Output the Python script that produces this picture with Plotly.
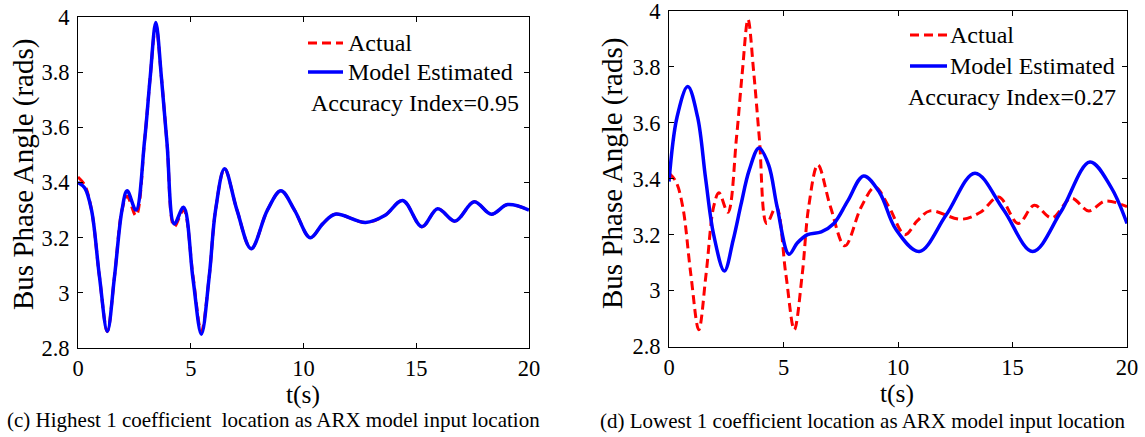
import plotly.graph_objects as go

# ---------------- data ----------------
t_actual = [0, 0.3, 0.6, 0.95, 1.3, 1.62, 1.95, 2.18, 2.57, 2.95, 3.2, 3.45, 3.7, 3.95,
            4.27, 4.68, 5.1, 5.47, 5.82, 6.1, 6.5, 7.05, 7.68, 8.4, 9.0, 9.6, 10.3,
            10.85, 11.4, 12.75, 13.6, 14.4, 15.25, 15.95, 16.72, 17.57, 18.33, 19.05, 20]
actual = [3.42, 3.39, 3.30, 3.06, 2.86, 3.06, 3.30, 3.35, 3.28, 3.55, 3.78, 3.97, 3.78, 3.54,
          3.24, 3.30, 3.06, 2.86, 3.06, 3.30, 3.45, 3.30, 3.16, 3.30, 3.37, 3.30, 3.20,
          3.25, 3.285, 3.255, 3.28, 3.335, 3.24, 3.305, 3.26, 3.33, 3.285, 3.32, 3.30]
model_high = [3.40, 3.38, 3.30, 3.06, 2.86, 3.06, 3.30, 3.37, 3.30, 3.55, 3.78, 3.98, 3.78, 3.54,
              3.25, 3.31, 3.05, 2.85, 3.06, 3.30, 3.45, 3.30, 3.16, 3.30, 3.37, 3.30, 3.20,
              3.25, 3.285, 3.255, 3.28, 3.335, 3.24, 3.305, 3.26, 3.33, 3.285, 3.32, 3.30]

t_low = [0, 0.35, 0.82, 1.25, 1.6, 1.95, 2.42, 2.8, 3.15, 3.5, 3.93, 4.35, 4.72, 5.24, 5.6,
         6.05, 6.65, 7.2, 7.8, 8.5, 9.2, 9.9, 10.93, 12.1, 13.36, 14.6, 15.88, 17.1, 18.38, 19.3, 20]
model_low = [3.39, 3.62, 3.73, 3.62, 3.40, 3.20, 3.07, 3.18, 3.31, 3.43, 3.51, 3.45, 3.30, 3.13, 3.17,
             3.20, 3.21, 3.24, 3.32, 3.41, 3.35, 3.22, 3.14, 3.27, 3.42, 3.29, 3.14, 3.28, 3.46, 3.37, 3.24]

x_ticks = [0, 5, 10, 15, 20]
y_ticks = [2.8, 3.0, 3.2, 3.4, 3.6, 3.8, 4.0]
y_tick_text = ["2.8", "3", "3.2", "3.4", "3.6", "3.8", "4"]
series_names = ["Actual", "Model Estimated"]
accuracy = ["Accuracy Index=0.95", "Accuracy Index=0.27"]
captions = ["(c) Highest 1 coefficient\u00a0 location as ARX model input location",
            "(d) Lowest 1 coefficient location as ARX model input location"]

W, H = 1145, 437
FONT = "Liberation Serif"
RED = "#ff0000"
BLUE = "#0000ff"
DASH = "9px,5px"

def px(x):
    return x / W

def py(y):
    return 1 - y / H

fig = go.Figure()

# left panel
fig.add_trace(go.Scatter(x=t_actual, y=actual, mode="lines", xaxis="x", yaxis="y",
                         line=dict(color=RED, width=3, dash=DASH, shape="spline", smoothing=1),
                         showlegend=False))
fig.add_trace(go.Scatter(x=t_actual, y=model_high, mode="lines", xaxis="x", yaxis="y",
                         line=dict(color=BLUE, width=3.5, shape="spline", smoothing=1),
                         showlegend=False))
# right panel
fig.add_trace(go.Scatter(x=t_actual, y=actual, mode="lines", xaxis="x2", yaxis="y2",
                         line=dict(color=RED, width=3, dash=DASH, shape="spline", smoothing=1),
                         showlegend=False))
fig.add_trace(go.Scatter(x=t_low, y=model_low, mode="lines", xaxis="x2", yaxis="y2",
                         line=dict(color=BLUE, width=3.5, shape="spline", smoothing=1),
                         showlegend=False))

axis_common = dict(showgrid=False, zeroline=False, showline=True, linecolor="black",
                   linewidth=1, mirror="ticks", ticks="inside", ticklen=5, tickcolor="black",
                   ticklabeloverflow="allow",
                   tickfont=dict(family=FONT, size=22.5, color="black"))

fig.update_layout(
    width=W, height=H, margin=dict(l=0, r=0, t=0, b=0, pad=0, autoexpand=False),
    paper_bgcolor="white", plot_bgcolor="white",
    font=dict(family=FONT, color="black"),
    xaxis=dict(domain=[px(78), px(529)], range=[0, 20], tickvals=x_ticks, anchor="y",
               ticklabelstandoff=0, **axis_common),
    yaxis=dict(domain=[py(348), py(17)], range=[2.8, 4.0], tickvals=y_ticks, ticktext=y_tick_text,
               anchor="x", ticklabelstandoff=3, **axis_common),
    xaxis2=dict(domain=[px(669), px(1127)], range=[0, 20], tickvals=x_ticks, anchor="y2",
                ticklabelstandoff=0, **axis_common),
    yaxis2=dict(domain=[py(346.5), py(11)], range=[2.8, 4.0], tickvals=y_ticks, ticktext=y_tick_text,
                anchor="x2", ticklabelstandoff=3, **axis_common),
)

annotations = []
shapes = []

def text(x, y, s, size, xanchor="center", angle=0):
    annotations.append(dict(x=px(x), y=py(y), xref="paper", yref="paper", text=s, showarrow=False,
                            xanchor=xanchor, yanchor="middle", textangle=angle,
                            font=dict(family=FONT, size=size, color="black")))

# axis titles
text(24, 175, "Bus Phase Angle (rads)", 29, angle=-90)
text(612, 174, "Bus Phase Angle (rads)", 29, angle=-90)
text(303, 394, "t(s)", 25.5)
text(897, 393, "t(s)", 25.5)
# captions
text(5, 420, captions[0], 21, xanchor="left")
text(598, 421, captions[1], 21, xanchor="left")

# legends
legends = [
    dict(x0=308, x1=343, tx=346, y1=43, y2=72, ax=309, ay=103, acc=accuracy[0]),
    dict(x0=910, x1=947, tx=948, y1=35, y2=66, ax=906, ay=97, acc=accuracy[1]),
]
for L in legends:
    shapes.append(dict(type="line", xref="paper", yref="paper", x0=px(L["x0"]), x1=px(L["x1"]),
                       y0=py(L["y1"]), y1=py(L["y1"]), line=dict(color=RED, width=3, dash=DASH)))
    shapes.append(dict(type="line", xref="paper", yref="paper", x0=px(L["x0"]), x1=px(L["x1"]),
                       y0=py(L["y2"]), y1=py(L["y2"]), line=dict(color=BLUE, width=3.5)))
    text(L["tx"], L["y1"], series_names[0], 24, xanchor="left")
    text(L["tx"], L["y2"], series_names[1], 24, xanchor="left")
    text(L["ax"], L["ay"], L["acc"], 24, xanchor="left")

fig.update_layout(annotations=annotations, shapes=shapes)
fig.write_html("out.html")
